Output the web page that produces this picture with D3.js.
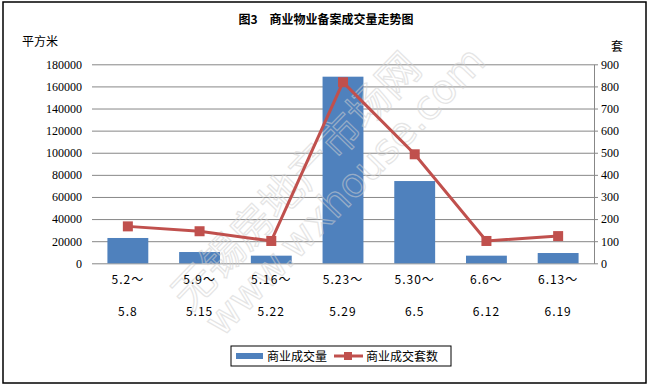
<!DOCTYPE html>
<html>
<head>
    <meta charset="utf-8" />
    <script src="https://d3js.org/d3.v7.min.js"></script>
    <style>
        body { margin: 0; background: #fff; }
        text { font-family: SimSun, "Noto Sans CJK SC", sans-serif; fill: #000; }
    </style>
</head>
<body>
<script>
    // data
    var periodStart = ["5.2～", "5.9～", "5.16～", "5.23～", "5.30～", "6.6～", "6.13～"];
    var periodEnd = ["5.8", "5.15", "5.22", "5.29", "6.5", "6.12", "6.19"];
    var area = [22900, 10200, 6900, 168800, 74400, 6900, 9300];   // 平方米
    var units = [167, 145, 101, 819, 493, 101, 123];              // 套
    var leftTicks = [0, 20000, 40000, 60000, 80000, 100000, 120000, 140000, 160000, 180000];
    var rightTicks = [0, 100, 200, 300, 400, 500, 600, 700, 800, 900];

    var width = 652, height = 388;
    var plot = { left: 92, right: 594, top: 64.3, bottom: 263.3 };
    var blue = "#4F81BD", red = "#C0504D", grid = "#878787";

    var svg = d3.select("body").append("svg")
        .attr("width", width)
        .attr("height", height);

    // outer frame
    svg.append("rect")
        .attr("x", 3).attr("y", 2)
        .attr("width", 643).attr("height", 381)
        .attr("fill", "#fff").attr("stroke", "#000").attr("stroke-width", 1.5);

    var x = d3.scaleBand().domain(d3.range(periodStart.length))
        .range([plot.left, plot.right]).paddingInner(0.43).paddingOuter(0.215);
    var yL = d3.scaleLinear().domain([0, 180000]).range([plot.bottom, plot.top]);
    var yR = d3.scaleLinear().domain([0, 900]).range([plot.bottom, plot.top]);

    // gridlines + left labels
    var leftAxis = svg.append("g")
        .attr("transform", "translate(" + plot.right + ",0)")
        .call(d3.axisLeft(yL).tickValues(leftTicks).tickSize(plot.right - plot.left).tickPadding(10).tickFormat(d3.format("d")));
    leftAxis.select(".domain").remove();
    leftAxis.selectAll("line").attr("stroke", grid);
    leftAxis.selectAll("text").attr("font-size", 12).style("font-family", "SimSun, 'Liberation Serif', serif");

    // bars
    svg.append("g").selectAll("rect").data(area).join("rect")
        .attr("x", function (d, i) { return x(i); })
        .attr("y", function (d) { return yL(d); })
        .attr("width", x.bandwidth())
        .attr("height", function (d) { return plot.bottom - yL(d); })
        .attr("fill", blue);

    // watermark (over the bars, hollow letters)
    var wm = svg.append("g").attr("opacity", 0.55);
    wm.append("text").attr("transform", "translate(190,312) rotate(-46)")
        .attr("font-size", 42).style("fill", "none").attr("stroke", "#d0d0d0").attr("stroke-width", 1.2)
        .text("无锡房地产市场网");
    wm.append("text").attr("transform", "translate(222,338) rotate(-46)")
        .attr("font-size", 40).style("fill", "none").attr("stroke", "#d0d0d0").attr("stroke-width", 1.2)
        .style("font-family", "'DejaVu Sans', sans-serif").text("www.wxhouse.com");

    // right axis
    var rightAxis = svg.append("g")
        .attr("transform", "translate(" + plot.right + ",0)")
        .call(d3.axisRight(yR).tickValues(rightTicks).tickSize(4).tickPadding(3).tickSizeOuter(0));
    rightAxis.select(".domain").attr("stroke", grid);
    rightAxis.selectAll("line").attr("stroke", grid);
    rightAxis.selectAll("text").attr("font-size", 12).style("font-family", "SimSun, 'Liberation Serif', serif");

    // line series
    var cx = function (d, i) { return x(i) + x.bandwidth() / 2; };
    svg.append("path").datum(units)
        .attr("fill", "none").attr("stroke", red).attr("stroke-width", 3)
        .attr("d", d3.line().x(cx).y(function (d) { return yR(d); }));
    svg.append("g").selectAll("rect").data(units).join("rect")
        .attr("x", function (d, i) { return cx(d, i) - 5; })
        .attr("y", function (d) { return yR(d) - 5; })
        .attr("width", 10).attr("height", 10)
        .attr("fill", red);

    // category labels (two lines)
    var cats = svg.append("g").attr("font-size", 12).attr("text-anchor", "middle");
    cats.selectAll("text.a").data(periodStart).join("text").attr("class", "a")
        .attr("x", function (d, i) { return cx(d, i); }).attr("y", 284)
        .attr("letter-spacing", 1).text(function (d) { return d; });
    cats.selectAll("text.b").data(periodEnd).join("text").attr("class", "b")
        .attr("x", function (d, i) { return cx(d, i); }).attr("y", 316)
        .attr("letter-spacing", 1).text(function (d) { return d; });

    // titles
    svg.append("text").attr("x", 326).attr("y", 24).attr("text-anchor", "middle")
        .attr("font-size", 12).attr("font-weight", "bold").text("图3　商业物业备案成交量走势图");
    svg.append("text").attr("x", 22).attr("y", 46).attr("font-size", 12).text("平方米");
    svg.append("text").attr("x", 611).attr("y", 51).attr("font-size", 12).text("套");

    // legend
    var lg = svg.append("g");
    lg.append("rect").attr("x", 231).attr("y", 346).attr("width", 220).attr("height", 20)
        .attr("fill", "#fff").attr("stroke", "#000").attr("stroke-width", 1);
    lg.append("rect").attr("x", 236).attr("y", 353).attr("width", 27).attr("height", 6).attr("fill", blue);
    lg.append("text").attr("x", 267).attr("y", 361).attr("font-size", 12).text("商业成交量");
    lg.append("line").attr("x1", 334).attr("x2", 363).attr("y1", 356).attr("y2", 356)
        .attr("stroke", red).attr("stroke-width", 3);
    lg.append("rect").attr("x", 344).attr("y", 352).attr("width", 8).attr("height", 8).attr("fill", red);
    lg.append("text").attr("x", 366).attr("y", 361).attr("font-size", 12).text("商业成交套数");
</script>
</body>
</html>
